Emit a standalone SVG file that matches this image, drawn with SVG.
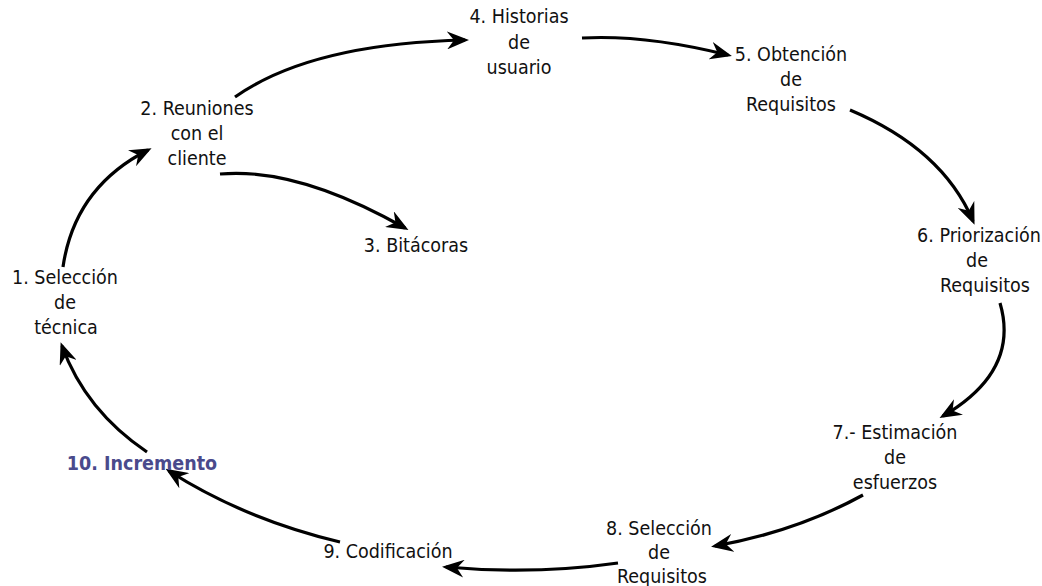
<svg xmlns="http://www.w3.org/2000/svg" width="1042" height="586" viewBox="0 0 1042 586">
<style>
text{font-family:"DejaVu Sans Condensed","DejaVu Sans",sans-serif;font-size:19.5px;fill:#111;text-anchor:middle}
.hl{font-weight:bold;fill:#4a4a8c}
.c{fill:none;stroke:#000;stroke-width:3.2;marker-end:url(#ah)}
</style>
<defs>
<marker id="ah" markerUnits="userSpaceOnUse" viewBox="0 0 22 18" refX="18" refY="9" markerWidth="22" markerHeight="18" orient="auto">
<path d="M0,0 L22,9 L0,18 L7,9 Z" fill="#000"/>
</marker>
</defs>
<rect width="1042" height="586" fill="#fff"/>
<g id="connectors">
<path class="c" d="M63,267 Q74.5,187.5 148,150"/>
<path class="c" d="M235,97 Q311,43.5 465,40"/>
<path class="c" d="M220,174 Q297.5,167 405,228"/>
<path class="c" d="M582,38 Q645.5,34.5 728,55"/>
<path class="c" d="M850,110 Q942.5,149 973,221"/>
<path class="c" d="M1000,303 Q1020,371 943,416"/>
<path class="c" d="M863,495 Q796.5,531.5 715,546"/>
<path class="c" d="M618,563 Q533.5,575 446,567"/>
<path class="c" d="M340,542 Q244,519 169,471"/>
<path class="c" d="M147,452 Q85.5,410.5 62,346"/>
</g>
<g id="n1"><text x="65" y="284">1. Selección</text><text x="65" y="309">de</text><text x="66" y="334">técnica</text></g>
<g id="n2"><text x="197" y="115">2. Reuniones</text><text x="197" y="140">con el</text><text x="197" y="165">cliente</text></g>
<g id="n3"><text x="416" y="252">3. Bitácoras</text></g>
<g id="n4"><text x="519" y="23">4. Historias</text><text x="519" y="49">de</text><text x="519" y="74">usuario</text></g>
<g id="n5"><text x="791" y="61">5. Obtención</text><text x="791" y="86">de</text><text x="791" y="111">Requisitos</text></g>
<g id="n6"><text x="979" y="242">6. Priorización</text><text x="977" y="267">de</text><text x="985" y="292">Requisitos</text></g>
<g id="n7"><text x="895" y="439">7.- Estimación</text><text x="895" y="464">de</text><text x="895" y="489">esfuerzos</text></g>
<g id="n8"><text x="659" y="535">8. Selección</text><text x="659" y="559">de</text><text x="662" y="583">Requisitos</text></g>
<g id="n9"><text x="388" y="558">9. Codificación</text></g>
<g id="n10"><text class="hl" x="142" y="470">10. Incremento</text></g>
</svg>
